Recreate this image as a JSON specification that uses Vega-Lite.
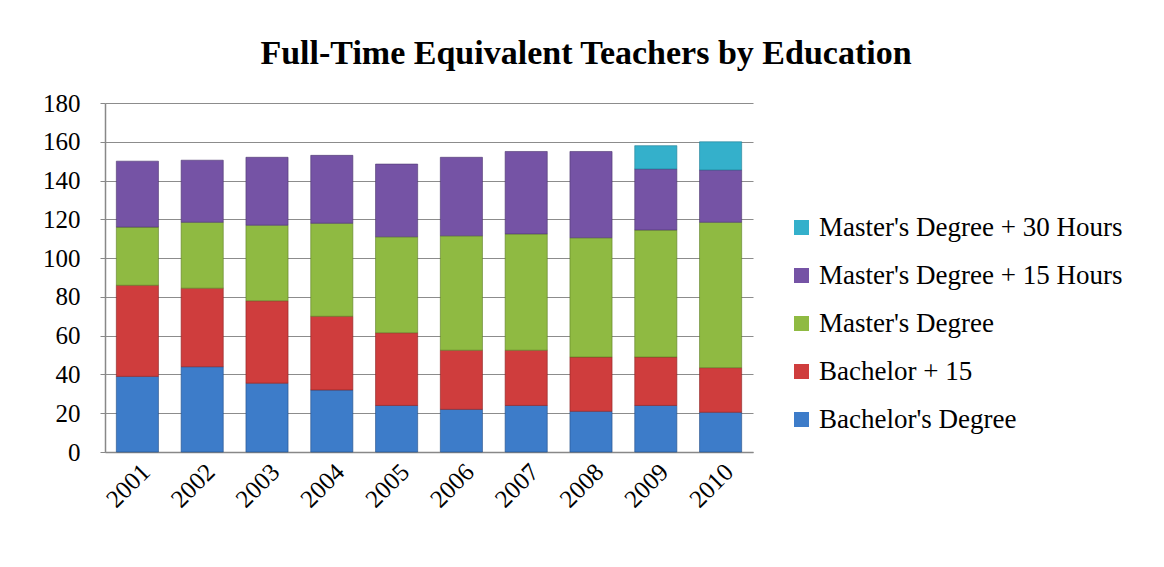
{
  "$schema": "https://vega.github.io/schema/vega-lite/v6.json",
  "width": 648,
  "height": 349,
  "autosize": {"type": "none"},
  "padding": {"left": 105, "top": 103, "right": 411, "bottom": 115},
  "background": "white",
  "title": {
    "text": "Full-Time Equivalent Teachers by Education",
    "font": "Liberation Serif",
    "fontSize": 34,
    "fontWeight": "bold",
    "color": "black",
    "anchor": "middle",
    "dx": 157,
    "offset": 20
  },
  "data": {
    "values": [
      {"year": "2001", "type": "Bachelor's Degree", "level": 1, "value": 39},
      {"year": "2001", "type": "Bachelor + 15", "level": 2, "value": 47},
      {"year": "2001", "type": "Master's Degree", "level": 3, "value": 30},
      {"year": "2001", "type": "Master's Degree + 15 Hours", "level": 4, "value": 34},
      {"year": "2002", "type": "Bachelor's Degree", "level": 1, "value": 44},
      {"year": "2002", "type": "Bachelor + 15", "level": 2, "value": 40.5},
      {"year": "2002", "type": "Master's Degree", "level": 3, "value": 34},
      {"year": "2002", "type": "Master's Degree + 15 Hours", "level": 4, "value": 32},
      {"year": "2003", "type": "Bachelor's Degree", "level": 1, "value": 35.5},
      {"year": "2003", "type": "Bachelor + 15", "level": 2, "value": 42.5},
      {"year": "2003", "type": "Master's Degree", "level": 3, "value": 39},
      {"year": "2003", "type": "Master's Degree + 15 Hours", "level": 4, "value": 35},
      {"year": "2004", "type": "Bachelor's Degree", "level": 1, "value": 32},
      {"year": "2004", "type": "Bachelor + 15", "level": 2, "value": 38},
      {"year": "2004", "type": "Master's Degree", "level": 3, "value": 48},
      {"year": "2004", "type": "Master's Degree + 15 Hours", "level": 4, "value": 35},
      {"year": "2005", "type": "Bachelor's Degree", "level": 1, "value": 24},
      {"year": "2005", "type": "Bachelor + 15", "level": 2, "value": 37.5},
      {"year": "2005", "type": "Master's Degree", "level": 3, "value": 49.5},
      {"year": "2005", "type": "Master's Degree + 15 Hours", "level": 4, "value": 37.5},
      {"year": "2006", "type": "Bachelor's Degree", "level": 1, "value": 22},
      {"year": "2006", "type": "Bachelor + 15", "level": 2, "value": 30.5},
      {"year": "2006", "type": "Master's Degree", "level": 3, "value": 59},
      {"year": "2006", "type": "Master's Degree + 15 Hours", "level": 4, "value": 40.5},
      {"year": "2007", "type": "Bachelor's Degree", "level": 1, "value": 24},
      {"year": "2007", "type": "Bachelor + 15", "level": 2, "value": 28.5},
      {"year": "2007", "type": "Master's Degree", "level": 3, "value": 60},
      {"year": "2007", "type": "Master's Degree + 15 Hours", "level": 4, "value": 42.5},
      {"year": "2008", "type": "Bachelor's Degree", "level": 1, "value": 21},
      {"year": "2008", "type": "Bachelor + 15", "level": 2, "value": 28},
      {"year": "2008", "type": "Master's Degree", "level": 3, "value": 61.5},
      {"year": "2008", "type": "Master's Degree + 15 Hours", "level": 4, "value": 44.5},
      {"year": "2009", "type": "Bachelor's Degree", "level": 1, "value": 24},
      {"year": "2009", "type": "Bachelor + 15", "level": 2, "value": 25},
      {"year": "2009", "type": "Master's Degree", "level": 3, "value": 65.5},
      {"year": "2009", "type": "Master's Degree + 15 Hours", "level": 4, "value": 31.5},
      {"year": "2009", "type": "Master's Degree + 30 Hours", "level": 5, "value": 12},
      {"year": "2010", "type": "Bachelor's Degree", "level": 1, "value": 20.5},
      {"year": "2010", "type": "Bachelor + 15", "level": 2, "value": 23},
      {"year": "2010", "type": "Master's Degree", "level": 3, "value": 75},
      {"year": "2010", "type": "Master's Degree + 15 Hours", "level": 4, "value": 27},
      {"year": "2010", "type": "Master's Degree + 30 Hours", "level": 5, "value": 14.5}
    ]
  },
  "mark": {"type": "bar", "strokeWidth": 1, "strokeOpacity": 0.6},
  "encoding": {
    "x": {
      "field": "year",
      "type": "ordinal",
      "title": null,
      "scale": {"paddingInner": 0.35, "paddingOuter": 0.175},
      "axis": {
        "labelAngle": -45,
        "labelFont": "Liberation Serif",
        "labelFontSize": 25,
        "labelColor": "black",
        "labelPadding": 7,
        "ticks": false,
        "domainColor": "#888888",
        "domainWidth": 1.5
      }
    },
    "y": {
      "field": "value",
      "type": "quantitative",
      "aggregate": "sum",
      "title": null,
      "stack": "zero",
      "scale": {"domain": [0, 180], "nice": false},
      "axis": {
        "values": [0, 20, 40, 60, 80, 100, 120, 140, 160, 180],
        "labelFont": "Liberation Serif",
        "labelFontSize": 25,
        "labelColor": "black",
        "labelPadding": 20,
        "tickSize": 5,
        "tickColor": "#888888",
        "domainColor": "#888888",
        "domainWidth": 1.5,
        "grid": true,
        "gridColor": "#8c8c8c",
        "gridWidth": 1.2
      }
    },
    "order": {"field": "level", "type": "quantitative", "sort": "ascending"},
    "color": {
      "field": "type",
      "type": "nominal",
      "title": null,
      "scale": {
        "domain": ["Master's Degree + 30 Hours", "Master's Degree + 15 Hours", "Master's Degree", "Bachelor + 15", "Bachelor's Degree"],
        "range": ["#34b0cb", "#7553a5", "#8fba42", "#cf3d3d", "#3d7cc9"]
      },
      "legend": {
        "orient": "none",
        "legendX": 683,
        "legendY": 111,
        "symbolType": "square",
        "symbolSize": 225,
        "symbolStrokeWidth": 0,
        "labelFont": "Liberation Serif",
        "labelFontSize": 27,
        "labelColor": "black",
        "labelOffset": 4,
        "labelLimit": 420,
        "rowPadding": 20,
        "padding": 0
      }
    },
    "stroke": {
      "field": "type",
      "type": "nominal",
      "scale": {
        "domain": ["Master's Degree + 30 Hours", "Master's Degree + 15 Hours", "Master's Degree", "Bachelor + 15", "Bachelor's Degree"],
        "range": ["#1f7f95", "#4d3570", "#5e7e24", "#8c2222", "#234f87"]
      },
      "legend": null
    }
  },
  "config": {
    "view": {"stroke": null}
  }
}
